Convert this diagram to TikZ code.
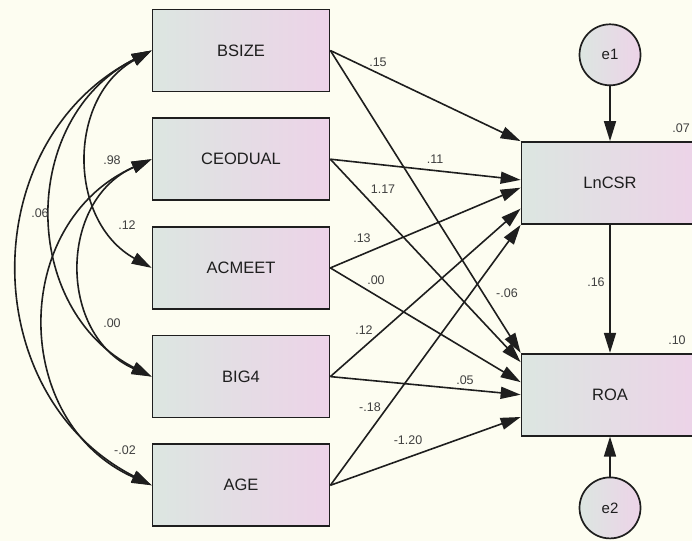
\documentclass[tikz,border=0pt]{standalone}
\usepackage{fontspec}
\setmainfont{Liberation Sans}
\usetikzlibrary{positioning,arrows.meta}
\definecolor{paper}{HTML}{FDFDF1}
\definecolor{boxleft}{HTML}{DCE6E1}
\definecolor{boxright}{HTML}{EDD3E8}
\definecolor{ink}{HTML}{1E1E1E}
\tikzstyle{block} = [draw=ink, line width=1.7pt, rectangle, minimum height=82pt, minimum width=177pt, left color=boxleft, right color=boxright, font=\fontsize{16.5}{19}\selectfont, text=ink]
\tikzstyle{error} = [draw=ink, line width=1.7pt, circle, minimum size=61pt, inner sep=0pt, left color=boxleft, right color=boxright, font=\fontsize{15}{18}\selectfont, text=ink]
\tikzstyle{coef} = [inner sep=0pt, font=\fontsize{12.5}{14}\selectfont, text=black!75]
\tikzstyle{regline} = [draw=ink, line width=1.6pt, -{Triangle[length=20pt,width=12pt]}]
\tikzstyle{covline} = [draw=ink, line width=1.6pt, {Triangle[length=20pt,width=12pt]}-{Triangle[length=20pt,width=12pt]}]

\begin{document}
\begin{tikzpicture}[x=1pt, y=-1pt]
        \useasboundingbox (0,0) rectangle (692,541);
        \clip (0,0) rectangle (692,541);
        \fill[paper] (0,0) rectangle (692,541);
        \node[block] (bsize) at (241,50.5) {BSIZE};
        \node[block] (ceodual) [below=25pt of bsize] {CEODUAL};
        \node[block] (acmeet) [below=25pt of ceodual] {ACMEET};
        \node[block] (big4) [below=25pt of acmeet] {BIG4};
        \node[block] (age) [below=25pt of big4] {AGE};
        \node[block] (lncsr) at (610,183) {LnCSR};
        \node[block] (roa) [below=128pt of lncsr] {ROA};
        \node[error] (e1) [above=55pt of lncsr] {e1};
        \node[error] (e2) [below=40pt of roa] {e2};
        \draw[regline] (bsize.east) -- (lncsr.north west);
        \draw[regline] (bsize.east) -- (roa.north west);
        \draw[regline] (ceodual.east) -- (lncsr.178);
        \draw[regline] (ceodual.east) -- (roa.160);
        \draw[regline] (acmeet.east) -- (lncsr.183);
        \draw[regline] (acmeet.east) -- (roa.172);
        \draw[regline] (big4.east) -- (lncsr.196);
        \draw[regline] (big4.east) -- (roa.west);
        \draw[regline] (age.east) -- (lncsr.south west);
        \draw[regline] (age.east) -- (roa.194);
        \draw[regline] (e1) -- (lncsr);
        \draw[regline] (lncsr) -- (roa);
        \draw[regline] (e2) -- (roa);
        \draw[covline] (bsize.west) to[bend right=61, looseness=1.14] (acmeet.west);
        \draw[covline] (bsize.west) to[bend right=63, looseness=1.17] (big4.west);
        \draw[covline] (bsize.west) to[bend right=63, looseness=1.17] (age.west);
        \draw[covline] (ceodual.west) to[bend right=66, looseness=1.21] (big4.west);
        \draw[covline] (ceodual.west) to[bend right=66, looseness=1.22] (age.west);
        \node[coef] (w-bsize-lncsr) at (378,62) {.15};
        \node[coef] (w-ceodual-lncsr) at (435,159) {.11};
        \node[coef] (w-ceodual-roa) at (383,189) {1.17};
        \node[coef] (w-acmeet-lncsr) at (362,238) {.13};
        \node[coef] (w-acmeet-roa) at (376,280) {.00};
        \node[coef] (w-bsize-roa) at (507,293) {-.06};
        \node[coef] (w-big4-lncsr) at (364,330) {.12};
        \node[coef] (w-big4-roa) at (465,380) {.05};
        \node[coef] (w-age-lncsr) at (370,407) {-.18};
        \node[coef] (w-age-roa) at (408,440) {-1.20};
        \node[coef] (w-lncsr-roa) at (596,282) {.16};
        \node[coef] (r-lncsr) at (681,128) {.07};
        \node[coef] (r-roa) at (677,340) {.10};
        \node[coef] (c-bsize-ceodual) at (112,160) {.98};
        \node[coef] (c-bsize-age) at (40,213) {.06};
        \node[coef] (c-bsize-acmeet) at (127,225) {.12};
        \node[coef] (c-ceodual-big4) at (112,323) {.00};
        \node[coef] (c-ceodual-age) at (125,450) {-.02};
    \end{tikzpicture}
\end{document}
